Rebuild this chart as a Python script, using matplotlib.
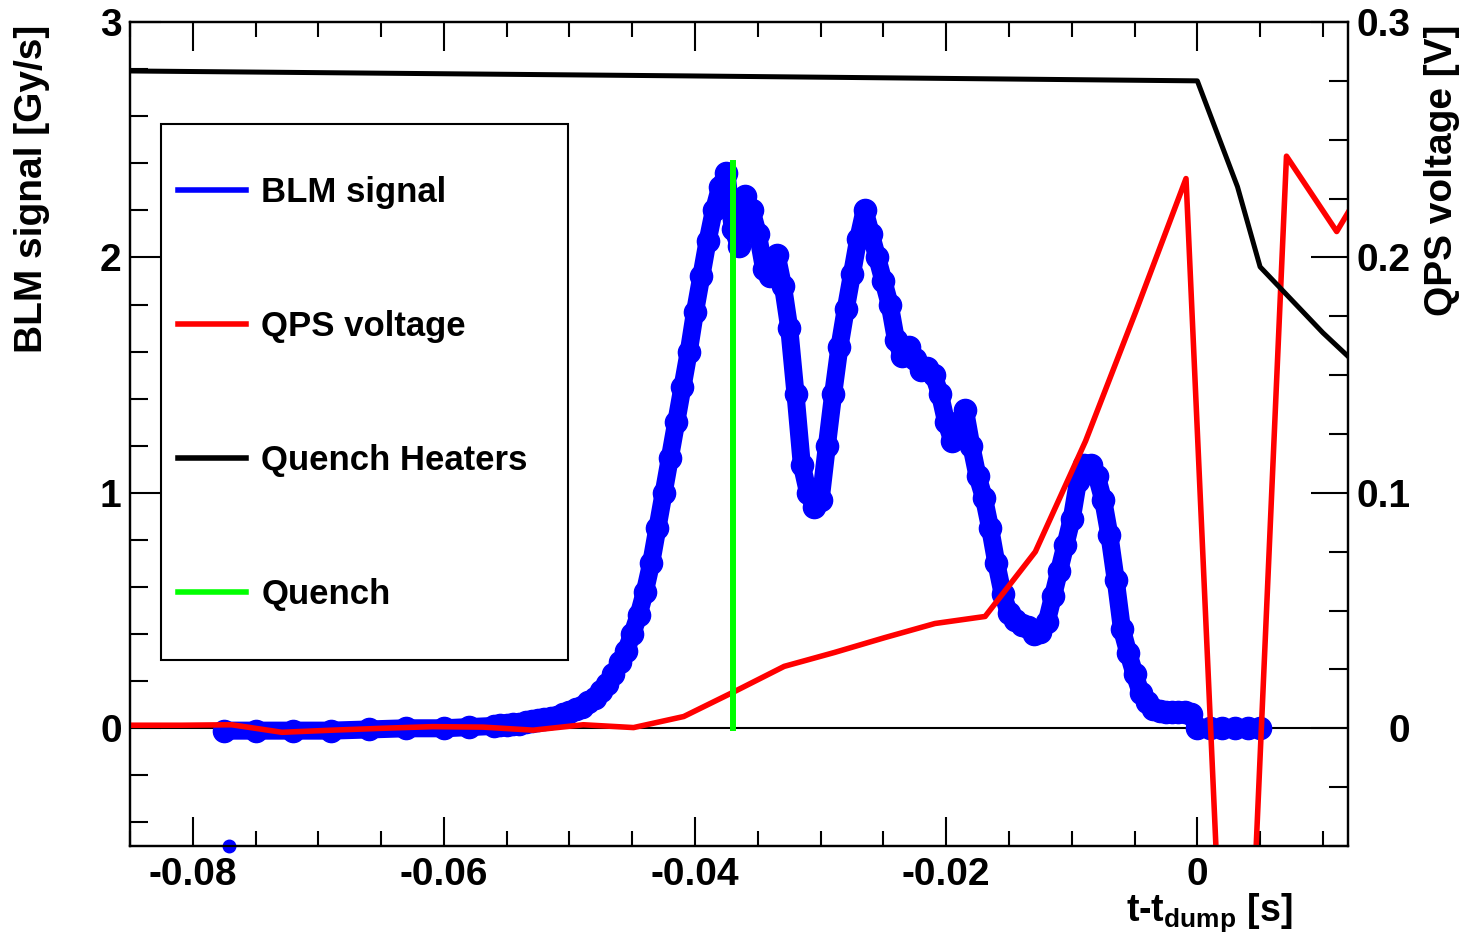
import matplotlib
matplotlib.use("Agg")
import matplotlib.pyplot as plt
from matplotlib.lines import Line2D
from matplotlib.patches import Rectangle
from matplotlib.ticker import MultipleLocator, FixedLocator, FuncFormatter

plt.rcParams['font.family'] = ['Liberation Sans', 'DejaVu Sans']
plt.rcParams['font.weight'] = 'bold'
plt.rcParams['axes.unicode_minus'] = False
plt.rcParams['mathtext.fontset'] = 'custom'
plt.rcParams['mathtext.rm'] = 'Liberation Sans:bold'
plt.rcParams['mathtext.bf'] = 'Liberation Sans:bold'
plt.rcParams['mathtext.it'] = 'Liberation Sans:bold'
plt.rcParams['mathtext.default'] = 'bf'

# ---------------- data ----------------
blm_t = [-0.0775, -0.0750, -0.0720, -0.0690, -0.0660, -0.0630, -0.0600, -0.0580,
         -0.0560, -0.0555, -0.0550, -0.0545, -0.0540, -0.0535, -0.0530, -0.0525,
         -0.0520, -0.0515, -0.0510, -0.0505, -0.0500, -0.0495, -0.0490, -0.0485,
         -0.0480, -0.0475, -0.0470, -0.0465, -0.0460, -0.0455, -0.0450, -0.0445,
         -0.0440, -0.0435, -0.0430, -0.0425, -0.0420, -0.0415, -0.0410, -0.0405,
         -0.0400, -0.0395, -0.0390, -0.0385, -0.0380, -0.0375, -0.0370, -0.0365,
         -0.0360, -0.0355, -0.0350, -0.0345, -0.0340, -0.0335, -0.0330, -0.0325,
         -0.0320, -0.0315, -0.0310, -0.0305, -0.0300, -0.0295, -0.0290, -0.0285,
         -0.0280, -0.0275, -0.0270, -0.0265, -0.0260, -0.0255, -0.0250, -0.0245,
         -0.0240, -0.0235, -0.0230, -0.0225, -0.0220, -0.0215, -0.0210, -0.0205,
         -0.0200, -0.0195, -0.0190, -0.0185, -0.0180, -0.0175, -0.0170, -0.0165,
         -0.0160, -0.0155, -0.0150, -0.0145, -0.0140, -0.0135, -0.0130, -0.0125,
         -0.0120, -0.0115, -0.0110, -0.0105, -0.0100, -0.0095, -0.0090, -0.0085,
         -0.0080, -0.0075, -0.0070, -0.0065, -0.0060, -0.0055, -0.0050, -0.0045,
         -0.0040, -0.0035, -0.0030, -0.0025, -0.0020, -0.0015, -0.0010, -0.0005,
         0.0000, 0.0010, 0.0020, 0.0030, 0.0040, 0.0050]
blm_v = [-0.010, -0.010, -0.010, -0.010, -0.005, 0.000, 0.000, 0.005,
         0.010, 0.012, 0.015, 0.018, 0.020, 0.025, 0.030, 0.035,
         0.040, 0.045, 0.050, 0.060, 0.070, 0.080, 0.090, 0.110,
         0.130, 0.160, 0.190, 0.230, 0.280, 0.330, 0.400, 0.480,
         0.580, 0.700, 0.850, 1.000, 1.150, 1.300, 1.450, 1.600,
         1.770, 1.920, 2.070, 2.200, 2.300, 2.360, 2.120, 2.050,
         2.260, 2.200, 2.100, 1.950, 1.920, 2.010, 1.880, 1.700,
         1.420, 1.120, 1.000, 0.940, 0.970, 1.200, 1.420, 1.620,
         1.780, 1.930, 2.080, 2.200, 2.100, 2.000, 1.900, 1.800,
         1.650, 1.580, 1.620, 1.570, 1.520, 1.530, 1.500, 1.420,
         1.300, 1.220, 1.300, 1.350, 1.200, 1.070, 0.980, 0.850,
         0.700, 0.570, 0.490, 0.460, 0.440, 0.430, 0.400, 0.410,
         0.450, 0.560, 0.670, 0.780, 0.890, 1.050, 1.120, 1.120,
         1.070, 0.970, 0.820, 0.630, 0.420, 0.320, 0.230, 0.150,
         0.110, 0.080, 0.072, 0.068, 0.068, 0.068, 0.070, 0.060,
         0.000, 0.000, 0.000, 0.000, 0.000, 0.000]
blm_outlier_t = [-0.0771]
blm_outlier_v = [-0.5]

qps_t = [-0.0849, -0.0809, -0.0769, -0.0729, -0.0689, -0.0649, -0.0609, -0.0569,
         -0.0529, -0.0489, -0.0449, -0.0409, -0.0369, -0.0329, -0.0289, -0.0249,
         -0.0209, -0.0169, -0.0129, -0.0089, -0.0049, -0.0009, 0.0031, 0.0071,
         0.0111, 0.0120]
qps_v = [0.0013, 0.0013, 0.0015, -0.0017, -0.0008, 0.0000, 0.0007, 0.0005,
         -0.0008, 0.0015, 0.0003, 0.0050, 0.0155, 0.0263, 0.0322, 0.0385,
         0.0445, 0.0475, 0.0750, 0.1220, 0.1770, 0.2335, -0.2430, 0.2430,
         0.2110, 0.2190]

qh_t = [-0.0850, -0.0405, 0.0000, 0.0032, 0.0050, 0.0100, 0.0120]
qh_v = [0.2792, 0.2771, 0.2750, 0.2300, 0.1960, 0.1680, 0.1580]

quench_t = -0.0370
quench_top = 2.40

labels = ["BLM signal", "QPS voltage", "Quench Heaters", "Quench"]
colors = ["#0000ff", "#ff0000", "#000000", "#00ff00"]

# ---------------- figure ----------------
W, H = 1470, 935
fig = plt.figure(figsize=(W / 100, H / 100), dpi=100)
ax1 = fig.add_axes([130 / W, (H - 846) / H, (1348 - 130) / W, (846 - 22) / H])
ax2 = ax1.twinx()

ax1.set_xlim(-0.085, 0.012)
ax1.set_ylim(-0.5, 3.0)
ax2.set_ylim(-0.05, 0.30)

ax1.axhline(0, color='black', lw=1.5, zorder=1)
ax1.plot(blm_t, blm_v, color=colors[0], lw=13, marker='o', ms=16,
         solid_capstyle='round', solid_joinstyle='round', zorder=2)
ax1.plot(blm_outlier_t, blm_outlier_v, ls='none', color=colors[0], marker='o',
         ms=9, clip_on=False, zorder=5)

ax2.plot(qps_t, qps_v, color=colors[1], lw=4)
ax2.plot(qh_t, qh_v, color=colors[2], lw=3.6)
ax2.plot([quench_t, quench_t], [0, quench_top], color=colors[3], lw=4.3,
         transform=ax1.transData)

# ticks
ax1.xaxis.set_major_locator(MultipleLocator(0.02))
ax1.xaxis.set_minor_locator(MultipleLocator(0.005))
ax1.xaxis.set_major_formatter(FuncFormatter(lambda v, p: "0" if abs(v) < 1e-9 else f"{v:.2f}"))
ax1.yaxis.set_major_locator(MultipleLocator(1))
ax1.yaxis.set_minor_locator(MultipleLocator(0.2))
ax1.yaxis.set_major_formatter(FuncFormatter(lambda v, p: f"{v:.0f}"))
ax2.yaxis.set_major_locator(FixedLocator([0.0, 0.1, 0.2, 0.3]))
ax2.yaxis.set_minor_locator(MultipleLocator(0.025))
ax2.yaxis.set_major_formatter(FuncFormatter(lambda v, p: "0" if abs(v) < 1e-9 else f"{v:.1f}"))

ax1.tick_params(axis='x', which='major', direction='in', length=21, width=1.5,
                top=True, labelsize=28, pad=8)
ax1.tick_params(axis='x', which='minor', direction='in', length=11, width=1.5, top=True)
ax1.tick_params(axis='y', which='major', direction='in', length=22, width=1.5,
                right=False, labelsize=28, pad=6)
ax1.tick_params(axis='y', which='minor', direction='in', length=13, width=1.5, right=False)
ax2.tick_params(axis='y', which='major', direction='in', length=27, width=1.5,
                labelsize=28, pad=45)
ax2.tick_params(axis='y', which='minor', direction='in', length=14, width=1.5)
for lbl in ax2.get_yticklabels():
    lbl.set_horizontalalignment('right')

for ax in (ax1, ax2):
    for s in ax.spines.values():
        s.set_linewidth(1.6)

# axis titles
fig.text(32 / W, 1 - 25 / H, "BLM signal [Gy/s]", rotation=90, ha='center', va='top',
         fontsize=28, fontweight='bold')
fig.text(1442 / W, 1 - 25 / H, "QPS voltage [V]", rotation=90, ha='center', va='top',
         fontsize=28, fontweight='bold')
fig.text(1292 / W, (H - 921) / H, "t-t$_{dump}$ [s]", ha='right', va='baseline',
         fontsize=27, fontweight='bold')

# legend: frame drawn as a rectangle, entries placed inside it
ax2.add_patch(Rectangle((0.0255, 0.2257), 0.3342, 0.6505, transform=ax2.transAxes,
                        facecolor='white', edgecolor='black', lw=1.5, zorder=4))
handles = [Line2D([], [], color=c, lw=4) for c in colors]
leg = ax2.legend(handles, labels, loc='upper left',
                 bbox_to_anchor=(0.0394, 0.8131), borderaxespad=0, borderpad=0,
                 fontsize=25, frameon=False, labelspacing=2.91,
                 handlelength=1.95, handletextpad=0.45)
leg.set_zorder(6)
for t in leg.get_texts():
    t.set_fontweight('bold')

fig.savefig("out.png", dpi=100)
